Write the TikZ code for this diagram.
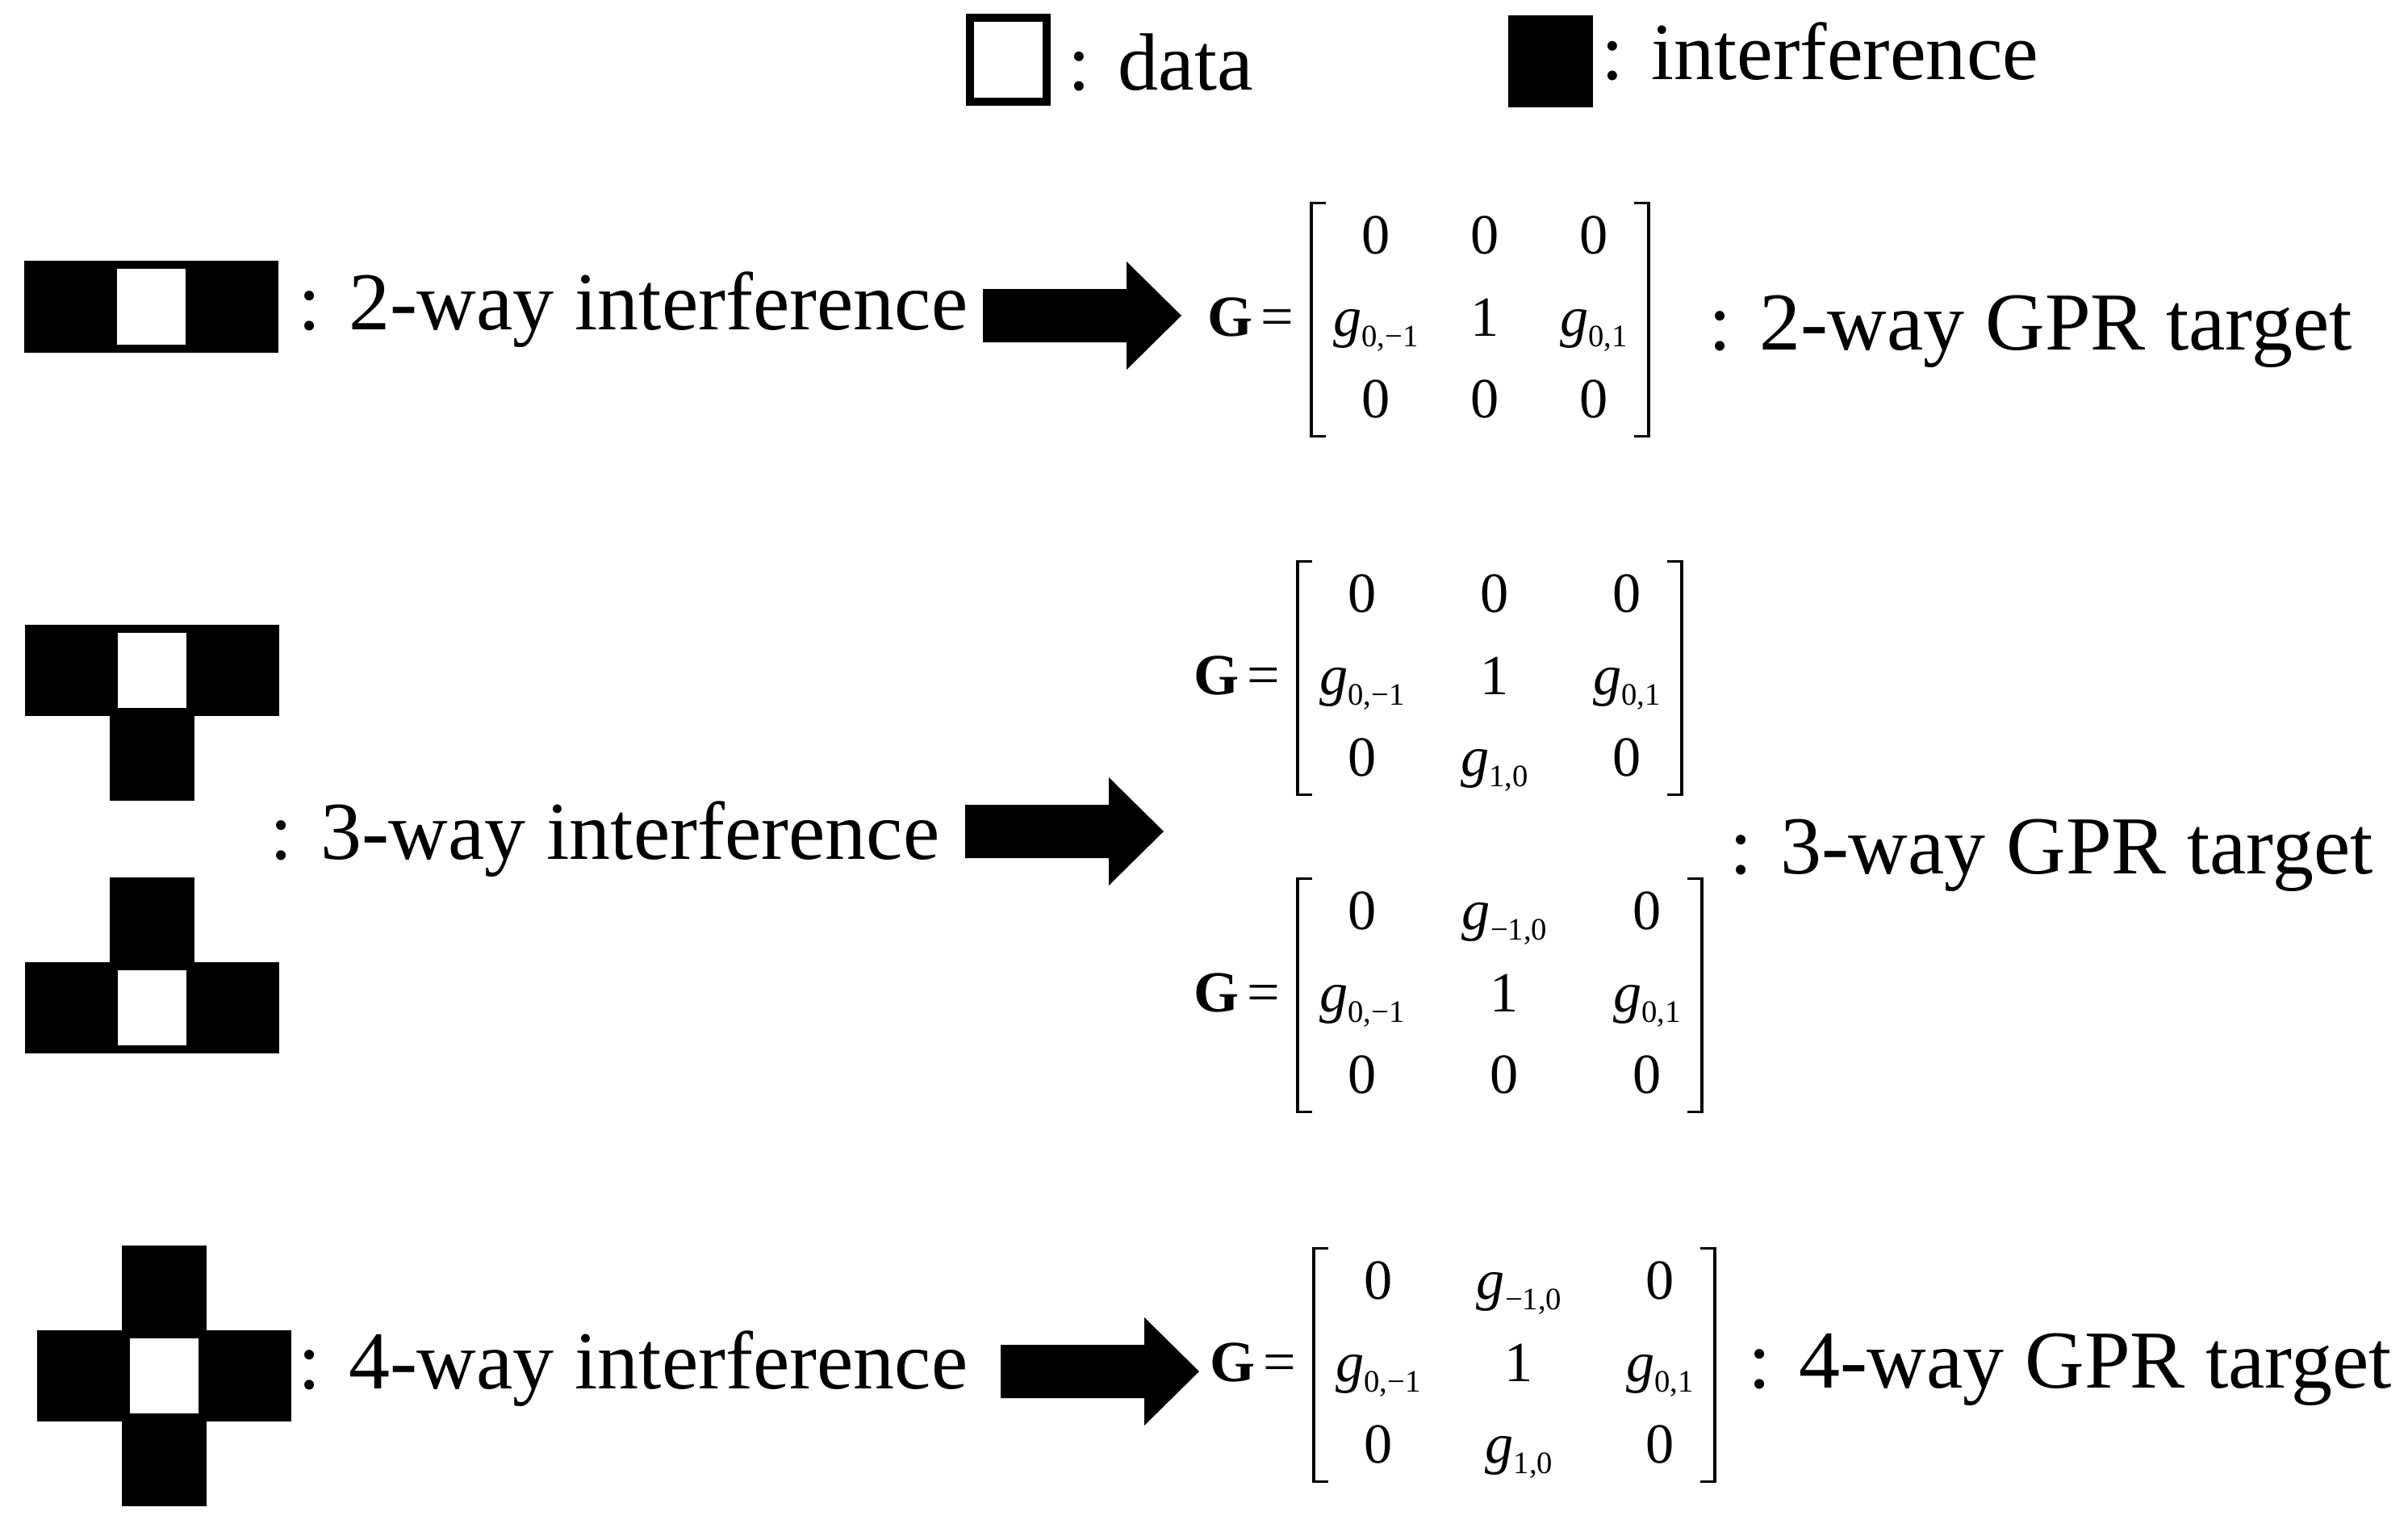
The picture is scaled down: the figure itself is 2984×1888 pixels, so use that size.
\documentclass[tikz,border=0pt]{standalone}
\usepackage{fontspec}
\setmainfont{Liberation Serif}
\usepackage{tikz}
\usetikzlibrary{positioning, calc, matrix}

\newcommand{\gsub}[1]{\textit{g}\raisebox{-0.13cm}{\fontsize{11}{12}\selectfont #1}}
\newcommand{\Geq}{\textbf{G}\hspace{0.1cm}=}

\begin{document}
\begin{tikzpicture}[x=0.01cm, y={(0cm,-0.01cm)},
  blk/.style={rectangle, fill=black, inner sep=0pt, outer sep=0pt,
    minimum width=1.05cm, minimum height=1.05cm},
  blkrow/.style={blk, minimum height=1.13cm},
  dat/.style={rectangle, fill=white, draw=black, line width=0.1cm,
    inner sep=0pt, outer sep=0.05cm, minimum width=0.95cm,
    minimum height=1.03cm},
  lbl/.style={anchor=base west, inner sep=0pt,
    font=\fontsize{29}{34}\selectfont},
  leg/.style={lbl, font=\fontsize{28.6}{33}\selectfont},
  ent/.style={inner sep=0pt, minimum width=1.2cm, minimum height=1.0cm,
    text height=0.5cm, text depth=0.2cm, font=\fontsize{20}{24}\selectfont},
  gmat/.style={matrix of nodes, nodes={ent}, row sep=0.015cm, inner sep=0pt},
  geq/.style={anchor=base east, inner sep=0pt,
    font=\fontsize{20.5}{24}\selectfont},
  brk/.style={line width=0.035cm},
  fatarrow/.pic={\fill (0,-33) -- (178,-33) -- (178,-67) -- (246,0)
    -- (178,67) -- (178,33) -- (0,33) -- cycle;},
]
\useasboundingbox (0,0) rectangle (2984,1888);

% legend
\node[dat]    (kdat) at (1249.5,74) {};
\node[leg]    (kdatl) at (1323,112) {: data};
\node[blkrow] (kint) at (1921.5,76) {};
\node[leg]    (kintl) at (1984,99) {: interference};

% 2-way
\node[dat] (d1) at (187.5,380) {};
\node[blkrow, left=0pt of d1]  (d1l) {};
\node[blkrow, right=0pt of d1] (d1r) {};
\node[lbl] (t1) at (369,409) {: 2-way interference};
\pic (a1) at (1218,391) {fatarrow};
\matrix[gmat, column sep=0.15cm] (m1) at (1840,401) {
  0 & 0 & 0 \\
  \gsub{0,−1} & 1 & \gsub{0,1} \\
  0 & 0 & 0 \\
};
\node[geq] (g1) at ($(m1-2-1.base)+(-101,0)$) {\Geq};
\node[lbl] (r1) at (2117,433) {: 2-way GPR target};

% 3-way
\node[dat] (d2) at (188.5,830.5) {};
\node[blkrow, left=0pt of d2]  (d2l) {};
\node[blkrow, right=0pt of d2] (d2r) {};
\node[blk, below=0pt of d2]    (d2b) {};
\node[dat] (d3) at (188.5,1248.5) {};
\node[blkrow, left=0pt of d3]  (d3l) {};
\node[blkrow, right=0pt of d3] (d3r) {};
\node[blk, above=0pt of d3]    (d3t) {};
\node[lbl] (t3) at (334,1064) {: 3-way interference};
\pic (a3) at (1196,1030) {fatarrow};
\matrix[gmat, column sep=0.44cm] (m2) at (1852,845) {
  0 & 0 & 0 \\
  \gsub{0,−1} & 1 & \gsub{0,1} \\
  0 & \gsub{1,0} & 0 \\
};
\node[geq] (g2) at ($(m2-2-1.base)+(-101,0)$) {\Geq};
\matrix[gmat, column sep=0.565cm] (m3) at (1864.5,1238) {
  0 & \gsub{−1,0} & 0 \\
  \gsub{0,−1} & 1 & \gsub{0,1} \\
  0 & 0 & 0 \\
};
\node[geq] (g3) at ($(m3-2-1.base)+(-101,0)$) {\Geq};
\node[lbl] (r3) at (2143,1082) {: 3-way GPR target};

% 4-way
\node[dat] (d4) at (203.5,1704.5) {};
\node[blkrow, left=0pt of d4]  (d4l) {};
\node[blkrow, right=0pt of d4] (d4r) {};
\node[blk, above=0pt of d4]    (d4t) {};
\node[blk, below=0pt of d4]    (d4b) {};
\node[lbl] (t4) at (369,1720) {: 4-way interference};
\pic (a4) at (1240,1699) {fatarrow};
\matrix[gmat, column sep=0.545cm] (m4) at (1882.5,1696) {
  0 & \gsub{−1,0} & 0 \\
  \gsub{0,−1} & 1 & \gsub{0,1} \\
  0 & \gsub{1,0} & 0 \\
};
\node[geq] (g4) at ($(m4-2-1.base)+(-101,0)$) {\Geq};
\node[lbl] (r4) at (2166,1719) {: 4-way GPR target};

% brackets
\foreach \m in {m1,m2,m3,m4}{
  \draw[brk] ($(\m-1-1.center)+(-62,-48)$) -| ($(\m-3-1.center)+(-80,38)$)
    -- ++(18,0);
  \draw[brk] ($(\m-1-3.center)+(50,-48)$) -| ($(\m-3-3.center)+(68,38)$)
    -- ++(-18,0);
}
\end{tikzpicture}
\end{document}
